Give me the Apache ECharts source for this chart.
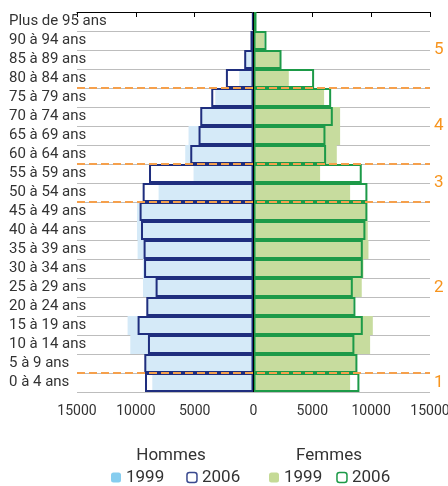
<!DOCTYPE html>
<html>
<head>
<meta charset="utf-8">
<script src="https://cdn.jsdelivr.net/npm/echarts@6/dist/echarts.min.js"></script>
<style>
  html, body { margin: 0; padding: 0; background: #fff; }
  #main { width: 448px; height: 486px; }
</style>
</head>
<body>
<div id="main"></div>
<script>
// tranches d'âge, du haut vers le bas
var ages = ['Plus de 95 ans', '90 à 94 ans', '85 à 89 ans', '80 à 84 ans', '75 à 79 ans',
  '70 à 74 ans', '65 à 69 ans', '60 à 64 ans', '55 à 59 ans', '50 à 54 ans',
  '45 à 49 ans', '40 à 44 ans', '35 à 39 ans', '30 à 34 ans', '25 à 29 ans',
  '20 à 24 ans', '15 à 19 ans', '10 à 14 ans', '5 à 9 ans', '0 à 4 ans'];

var hommes1999 = [60, 200, 750, 1215, 3250, 4450, 5520, 5800, 5095, 8065,
  9900, 9900, 9850, 9400, 9390, 9050, 10700, 10470, 9200, 8600];
var hommes2006 = [110, 255, 790, 2345, 3590, 4525, 4670, 5375, 8880, 9420,
  9680, 9560, 9340, 9300, 8320, 9110, 9850, 8970, 9280, 9220];
var femmes1999 = [150, 910, 2240, 3000, 6000, 7360, 7360, 7080, 5660, 8210,
  9650, 9710, 9770, 9340, 9200, 8490, 10140, 9910, 8700, 8210];
var femmes2006 = [255, 1100, 2380, 5150, 6600, 6740, 6115, 6170, 9200, 9680,
  9680, 9510, 9290, 9290, 8440, 8660, 9290, 8575, 8830, 9000];

// zones numérotées : limites en nombre de tranches depuis le haut
var zoneLimites = [4, 8, 10, 19];
var zones = [[0, 4, '5'], [4, 8, '4'], [8, 10, '3'], [10, 19, '2'], [19, 20, '1']];

var police = 'Roboto, "Noto Sans", sans-serif';
var orange = '#f7941d';

var chart = echarts.init(document.getElementById('main'));

function barre(nom, data, style) {
  return {
    name: nom,
    type: 'bar',
    data: data,
    barGap: '-100%',
    barCategoryGap: '0%',
    itemStyle: style,
    silent: true
  };
}

chart.setOption({
  animation: false,
  textStyle: { fontFamily: police },
  grid: { left: 77, right: 18, top: 12, bottom: 94, outerBoundsMode: 'none', containLabel: false },
  xAxis: {
    type: 'value',
    min: -15000,
    max: 15000,
    interval: 5000,
    axisLine: { lineStyle: { color: '#000', width: 1 } },
    axisTick: { show: true, length: 5, lineStyle: { color: '#000' } },
    axisLabel: {
      color: '#333', fontSize: 14, margin: 12, fontFamily: police,
      formatter: function (v) { return Math.abs(v); }
    },
    splitLine: { show: false }
  },
  yAxis: [{
    type: 'category',
    data: ages,
    inverse: true,
    axisLine: { show: false },
    axisTick: { show: false },
    axisLabel: {
      interval: 0, hideOverlap: false, lineHeight: 15,
      align: 'left', margin: 68, color: '#333', fontSize: 15, fontFamily: police
    },
    splitLine: { show: true, interval: 0, lineStyle: { color: '#bdbdbd', width: 1 } }
  }, {
    type: 'value',
    min: 0,
    max: 20,
    inverse: true,
    show: false
  }],
  legend: [{
    left: 111,
    top: 469,
    padding: 0,
    itemWidth: 10,
    itemHeight: 10,
    itemGap: 22,
    textStyle: { fontSize: 17, color: '#333', fontFamily: police },
    formatter: function (n) { return n.split(' ')[1]; },
    data: [
      { name: 'Hommes 1999', itemStyle: { color: '#86cdef', borderWidth: 0 } },
      { name: 'Hommes 2006', itemStyle: { color: 'rgba(0,0,0,0)', borderColor: '#3b4a8f', borderWidth: 1.5 } }
    ]
  }, {
    left: 269,
    top: 469,
    padding: 0,
    itemWidth: 10,
    itemHeight: 10,
    itemGap: 14,
    textStyle: { fontSize: 17, color: '#333', fontFamily: police },
    formatter: function (n) { return n.split(' ')[1]; },
    data: [
      { name: 'Femmes 1999', itemStyle: { color: '#c5da96', borderWidth: 0 } },
      { name: 'Femmes 2006', itemStyle: { color: 'rgba(0,0,0,0)', borderColor: '#1d9a48', borderWidth: 1.5 } }
    ]
  }],
  graphic: [
    { type: 'text', x: 171, y: 456, style: { text: 'Hommes', fill: '#333', font: '17px ' + police, textAlign: 'center', textVerticalAlign: 'middle' } },
    { type: 'text', x: 329, y: 456, style: { text: 'Femmes', fill: '#333', font: '17px ' + police, textAlign: 'center', textVerticalAlign: 'middle' } }
  ],
  series: [
    barre('Hommes 1999', hommes1999.map(function (v) { return -v; }), { color: '#d5eaf8' }),
    barre('Femmes 1999', femmes1999, { color: '#c7dc9e' }),
    barre('Hommes 2006', hommes2006.map(function (v) { return -v; }),
      { color: 'rgba(0,0,0,0)', borderColor: '#1f2e7e', borderWidth: 2 }),
    barre('Femmes 2006', femmes2006,
      { color: 'rgba(0,0,0,0)', borderColor: '#1d9a48', borderWidth: 2 }),
    {
      type: 'line',
      yAxisIndex: 1,
      data: [],
      z: 5,
      silent: true,
      markLine: {
        silent: true,
        symbol: 'none',
        label: { show: false },
        lineStyle: { color: '#f5a04c', width: 2, type: [8, 4] },
        data: zoneLimites.map(function (l) { return { yAxis: l }; }).concat([
          { xAxis: 0, lineStyle: { color: '#000', width: 1, type: 'solid' } }
        ])
      },
      markArea: {
        silent: true,
        itemStyle: { color: 'rgba(0,0,0,0)' },
        label: { show: true, position: 'right', distance: 4, color: orange, fontSize: 17, fontFamily: police },
        data: zones.map(function (z) {
          return [{ yAxis: z[0], name: z[2] }, { yAxis: z[1] }];
        })
      }
    }
  ]
});
</script>
</body>
</html>
